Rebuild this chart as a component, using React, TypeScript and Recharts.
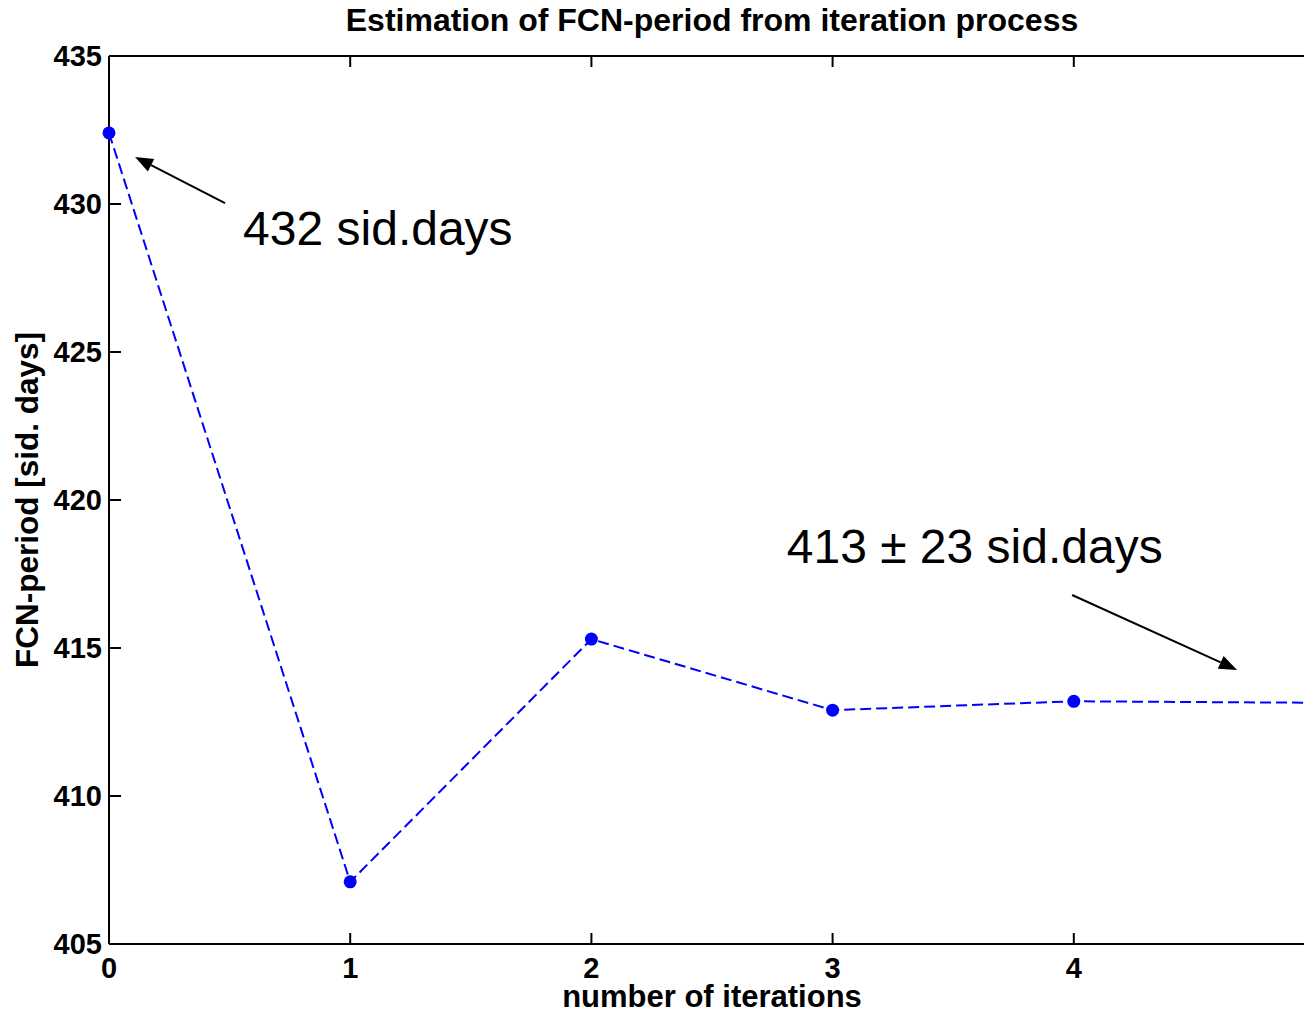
import { LineChart, Line, XAxis, YAxis, ReferenceLine, ReferenceDot } from 'recharts';

const iterations = [0, 1, 2, 3, 4, 5];
const fcnPeriod = [432.4, 407.1, 415.3, 412.9, 413.2, 413.15];
const xTicks = [0, 1, 2, 3, 4];
const yTicks = [405, 410, 415, 420, 425, 430, 435];

const title = 'Estimation of FCN-period from iteration process';
const xLabel = 'number of iterations';
const yLabel = 'FCN-period [sid. days]';

// annotation texts (anchored at baseline-left) and arrows, in data units
const notes = [
  { text: '432 sid.days', x: 0.556, y: 428.6 },
  { text: '413 ± 23 sid.days', x: 2.81, y: 417.87 },
];
const arrows = [
  { x1: 0.481, y1: 430.03, x2: 0.108, y2: 431.59 },
  { x1: 3.993, y1: 416.79, x2: 4.677, y2: 414.26 },
];

const data = iterations.map((it, i) => ({ it, period: fcnPeriod[i] }));

const FONT = '"Liberation Sans", Arial, Helvetica, sans-serif';
const BLUE = '#0000ff';
const TINY = 0.001;

const YTick = (props: any) => {
  const { x, y, payload } = props;
  return (
    <g>
      <line x1={x} y1={y} x2={x + 12} y2={y} stroke="#000" strokeWidth={2} />
      <text x={x - 7} y={y} dy="0.36em" textAnchor="end" fontFamily={FONT} fontWeight="bold" fontSize={29} fill="#000">
        {payload.value}
      </text>
    </g>
  );
};

const XTick = (props: any) => {
  const { x, y, payload } = props;
  return (
    <g>
      <line x1={x} y1={y} x2={x} y2={y - 11} stroke="#000" strokeWidth={2} />
      <text x={x} y={y + 13} dy="0.72em" textAnchor="middle" fontFamily={FONT} fontWeight="bold" fontSize={29} fill="#000">
        {payload.value}
      </text>
    </g>
  );
};

const TopTick = (props: any) => {
  const { x, y } = props;
  return <line x1={x} y1={y} x2={x} y2={y + 11} stroke="#000" strokeWidth={2} />;
};

const arrowShape = (props: any) => {
  const { x1, y1, x2, y2 } = props;
  const ang = Math.atan2(y2 - y1, x2 - x1);
  const len = 18;
  const half = 7;
  const bx = x2 - len * Math.cos(ang);
  const by = y2 - len * Math.sin(ang);
  const px = -Math.sin(ang) * half;
  const py = Math.cos(ang) * half;
  return (
    <g>
      <line x1={x1} y1={y1} x2={bx} y2={by} stroke="#000" strokeWidth={2} />
      <polygon points={`${x2},${y2} ${bx + px},${by + py} ${bx - px},${by - py}`} fill="#000" />
    </g>
  );
};

const App = () => {
  return (
    <div style={{ position: 'absolute', left: 0, top: 0, width: 1304, height: 1014, overflow: 'hidden', background: '#fff' }}>
      <LineChart width={1316} height={1014} data={data} margin={{ top: 55, right: 1, bottom: 0, left: 0 }}>
        <XAxis
          dataKey="it"
          type="number"
          domain={[0, 5]}
          ticks={xTicks}
          height={70}
          tickSize={TINY}
          tickMargin={TINY}
          tick={<XTick />}
          axisLine={{ stroke: '#000', strokeWidth: 2 }}
          label={(p: any) => {
            const vb = p.viewBox;
            return (
              <text x={vb.x + vb.width / 2} y={vb.y + vb.height - 7} textAnchor="middle" fontFamily={FONT} fontWeight="bold" fontSize={31} fill="#000">
                {xLabel}
              </text>
            );
          }}
        />
        <XAxis
          xAxisId="top"
          orientation="top"
          dataKey="it"
          type="number"
          domain={[0, 5]}
          ticks={xTicks}
          height={1}
          tickSize={TINY}
          tickMargin={TINY}
          tick={<TopTick />}
          axisLine={{ stroke: '#000', strokeWidth: 2 }}
          label={(p: any) => {
            const vb = p.viewBox;
            return (
              <text x={vb.x + vb.width / 2} y={vb.y + vb.height - 25} textAnchor="middle" fontFamily={FONT} fontWeight="bold" fontSize={32} fill="#000">
                {title}
              </text>
            );
          }}
        />
        <YAxis
          type="number"
          domain={[405, 435]}
          ticks={yTicks}
          width={109}
          tickSize={TINY}
          tickMargin={TINY}
          tick={<YTick />}
          axisLine={{ stroke: '#000', strokeWidth: 2 }}
          label={(p: any) => {
            const vb = p.viewBox;
            const cx = vb.x + 38;
            const cy = vb.y + vb.height / 2;
            return (
              <text x={cx} y={cy} transform={`rotate(-90 ${cx} ${cy})`} textAnchor="middle" fontFamily={FONT} fontWeight="bold" fontSize={31.5} fill="#000">
                {yLabel}
              </text>
            );
          }}
        />
        <Line
          type="linear"
          dataKey="period"
          stroke={BLUE}
          strokeWidth={2}
          strokeDasharray="11 5"
          dot={{ r: 6.5, fill: BLUE, stroke: 'none', strokeDasharray: '' }}
          activeDot={false}
          isAnimationActive={false}
        />
        {arrows.map((a, i) => (
          <ReferenceLine
            key={`arrow-${i}`}
            segment={[{ x: a.x1, y: a.y1 }, { x: a.x2, y: a.y2 }]}
            shape={arrowShape}
          />
        ))}
        {notes.map((n, i) => (
          <ReferenceDot
            key={`note-${i}`}
            x={n.x}
            y={n.y}
            r={0}
            fill="none"
            stroke="none"
            label={(p: any) => {
              const vb = p.viewBox;
              return (
                <text x={vb.x} y={vb.y} fontFamily={FONT} fontSize={48} fill="#000">
                  {n.text}
                </text>
              );
            }}
          />
        ))}
      </LineChart>
    </div>
  );
};

export default App;
